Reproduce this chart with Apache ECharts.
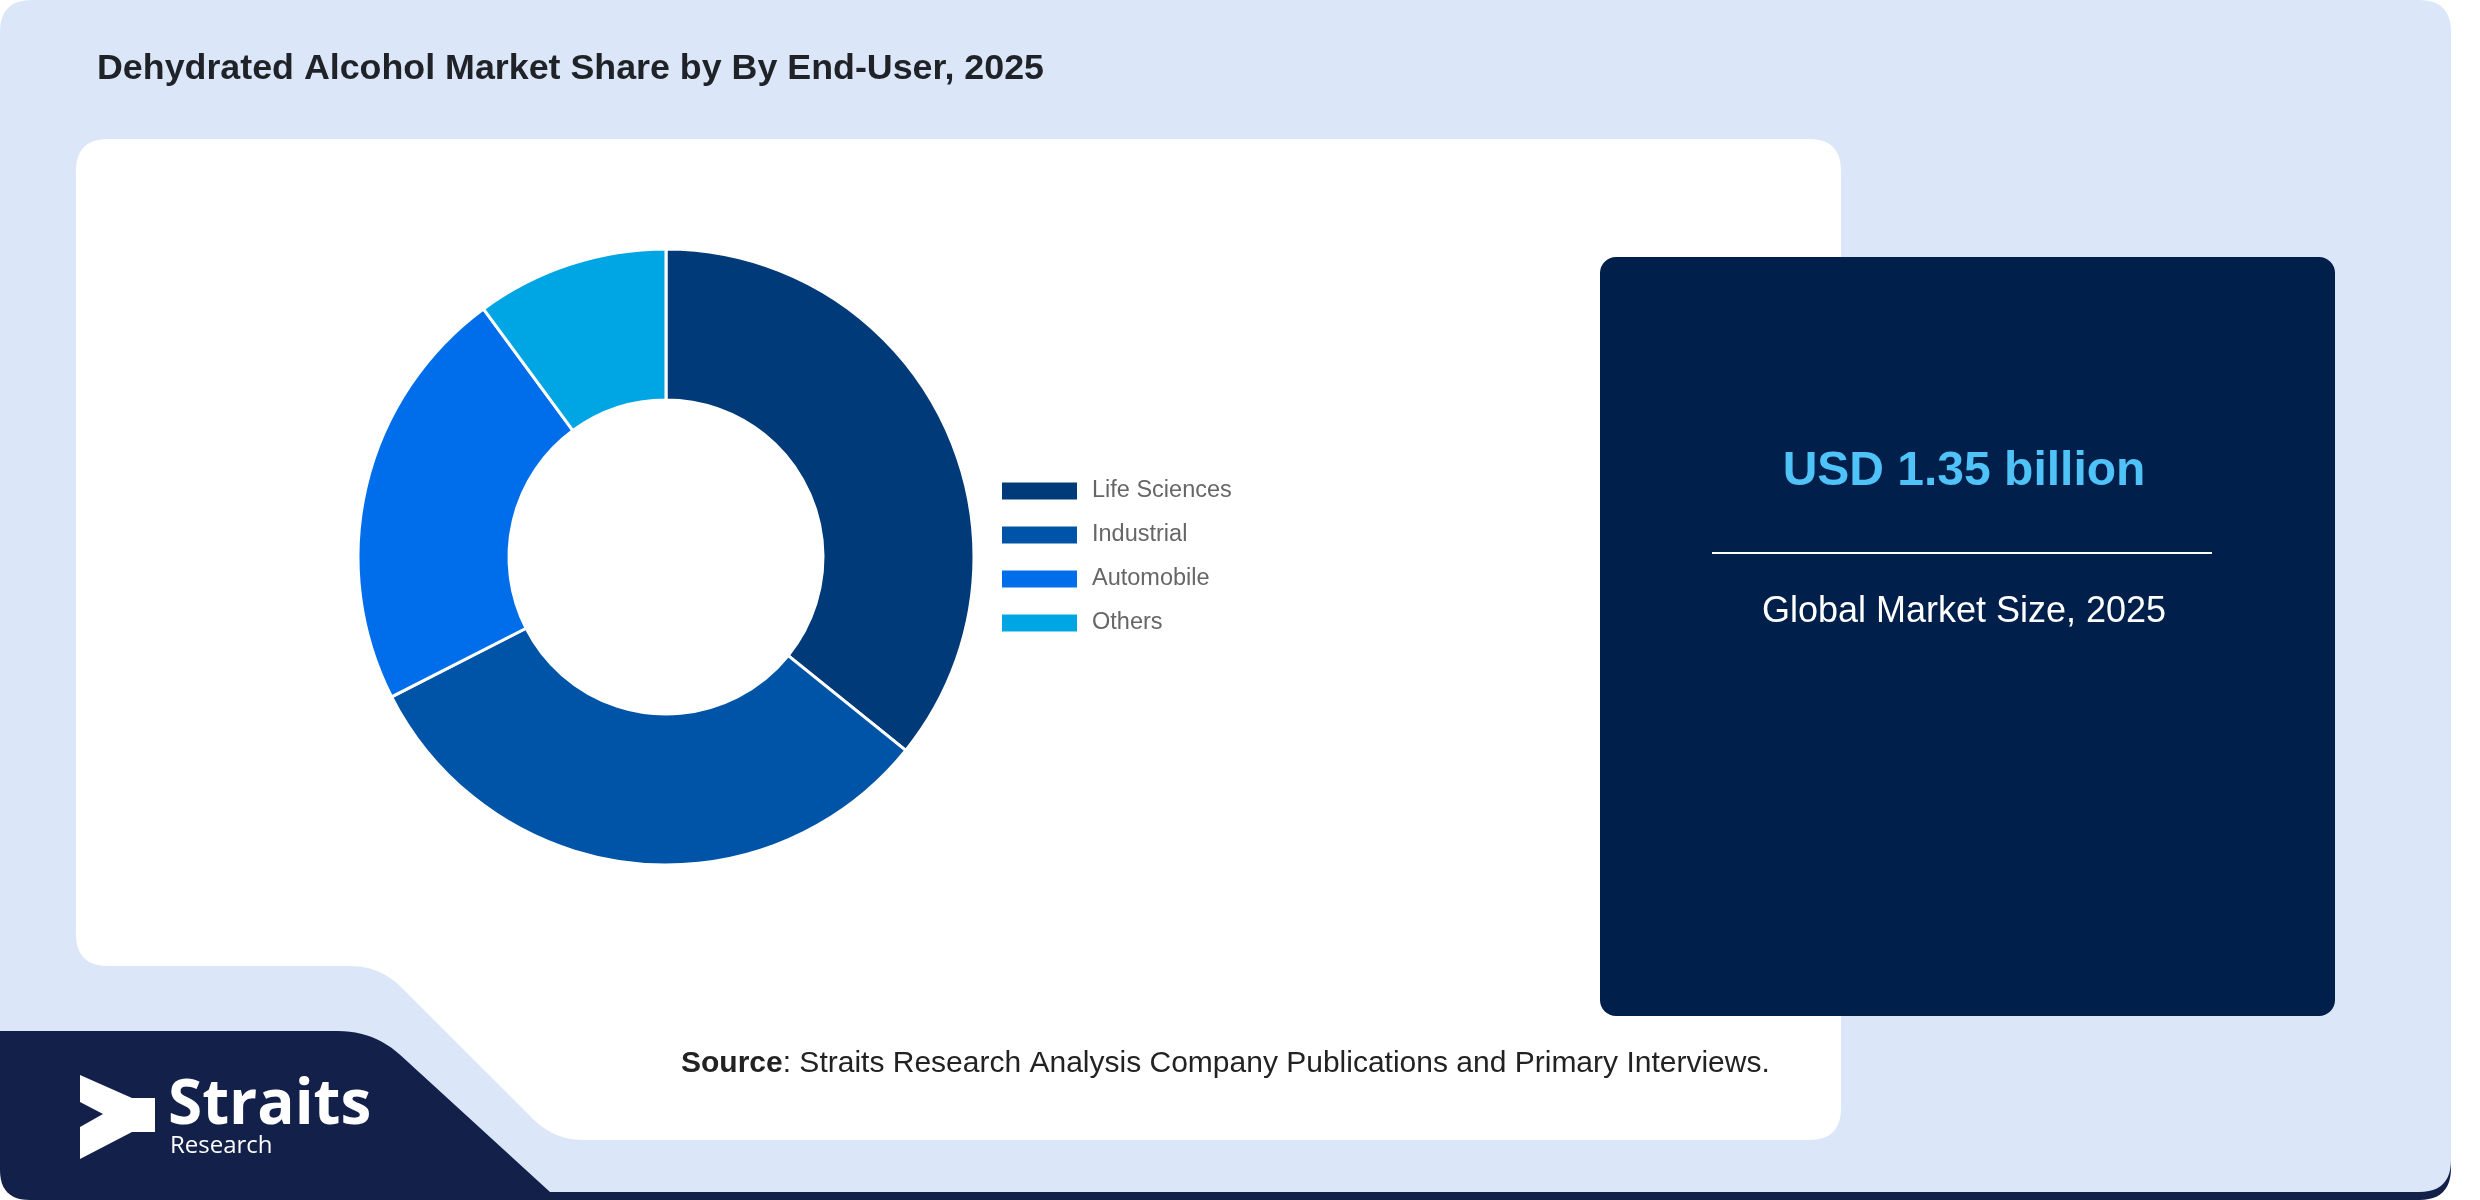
<!DOCTYPE html>
<html>
<head>
<meta charset="utf-8">
<script src="https://cdn.jsdelivr.net/npm/echarts@6/dist/echarts.min.js"></script>
<style>
html,body{margin:0;padding:0;background:#ffffff;}
#chart{width:2480px;height:1200px;}
</style>
</head>
<body>
<div id="chart"></div>
<script>
// ---- data ----
var categories = ['Life Sciences', 'Industrial', 'Automobile', 'Others'];
var shares = [35.8, 31.7, 22.4, 10.1];
var palette = ['#003a78', '#0054a8', '#006eea', '#00a6e3'];
var titleText = 'Dehydrated Alcohol Market Share by By End-User, 2025';
var marketValue = 'USD 1.35 billion';
var marketLabel = 'Global Market Size, 2025';
var sourceLabel = 'Source';
var sourceText = ': Straits Research Analysis Company Publications and Primary Interviews.';

var chart = echarts.init(document.getElementById('chart'), null, {renderer: 'canvas'});

var FONT = '"Liberation Sans", Arial, sans-serif';
var LOGO_FONT = '"Open Sans", "Noto Sans", sans-serif';

// rounded polygon helper (decorative panel shapes)
function roundPoly(corners) {
  var out = [];
  var n = corners.length;
  for (var i = 0; i < n; i++) {
    var p = corners[i], r = p[2] || 0;
    if (!r) { out.push([p[0], p[1]]); continue; }
    var a = corners[(i - 1 + n) % n], b = corners[(i + 1) % n];
    var d1x = a[0] - p[0], d1y = a[1] - p[1], l1 = Math.sqrt(d1x * d1x + d1y * d1y);
    var d2x = b[0] - p[0], d2y = b[1] - p[1], l2 = Math.sqrt(d2x * d2x + d2y * d2y);
    var s = [p[0] + d1x / l1 * r, p[1] + d1y / l1 * r];
    var e = [p[0] + d2x / l2 * r, p[1] + d2y / l2 * r];
    for (var k = 0; k <= 12; k++) {
      var t = k / 12, u = 1 - t;
      out.push([u * u * s[0] + 2 * u * t * p[0] + t * t * e[0], u * u * s[1] + 2 * u * t * p[1] + t * t * e[1]]);
    }
  }
  return out;
}

var navyShape = roundPoly([[0, 1030, 0], [2451, 1030, 0], [2451, 1200, 32], [0, 1200, 30]]);
var cardShape = roundPoly([[0, 0, 32], [2451, 0, 32], [2451, 1192, 32], [550, 1192, 0], [374, 1031, 36], [0, 1031, 0]]);
var whiteShape = roundPoly([[76, 139, 32], [1841, 139, 32], [1841, 1140, 32], [554, 1140, 30], [380, 966, 30], [76, 966, 32]]);
var chevron = [[80,1075],[132,1098],[155,1098],[155,1132],[132,1132],[80,1159],[80,1127],[103,1114],[80,1102]];

var data = categories.map(function (c, i) {
  return {name: c, value: shares[i], itemStyle: {color: palette[i]}};
});

chart.setOption({
  animation: false,
  graphic: [
    {type: 'polygon', z: 0, silent: true, shape: {points: navyShape}, style: {fill: '#13204a'}},
    {type: 'polygon', z: 1, silent: true, shape: {points: cardShape}, style: {fill: '#dbe7f9'}},
    {type: 'polygon', z: 2, silent: true, shape: {points: whiteShape}, style: {fill: '#ffffff'}},
    {type: 'rect', z: 3, silent: true, shape: {x: 1600, y: 257, width: 735, height: 759, r: 16}, style: {fill: '#001f4a'}},
    {type: 'text', z: 4, silent: true, x: 97, y: 69, style: {text: titleText, font: 'bold 35.8px ' + FONT, fill: '#1f2328', verticalAlign: 'middle', align: 'left'}},
    {type: 'text', z: 4, silent: true, x: 1964, y: 472, style: {text: marketValue, font: 'bold 48px ' + FONT, fill: '#4fc3f7', verticalAlign: 'middle', align: 'center'}},
    {type: 'rect', z: 4, silent: true, shape: {x: 1712, y: 552, width: 500, height: 2}, style: {fill: '#ffffff'}},
    {type: 'text', z: 4, silent: true, x: 1964, y: 612, style: {text: marketLabel, font: '36px ' + FONT, fill: '#ffffff', verticalAlign: 'middle', align: 'center'}},
    {type: 'text', z: 4, silent: true, x: 681, y: 1064, style: {
      text: '{b|' + sourceLabel + '}' + sourceText, font: '30px ' + FONT, fill: '#222222', verticalAlign: 'middle', align: 'left',
      rich: {b: {font: 'bold 30px ' + FONT, fill: '#222222'}}
    }},
    {type: 'polygon', z: 4, silent: true, shape: {points: chevron}, style: {fill: '#ffffff'}},
    {type: 'text', z: 4, silent: true, x: 168, y: 1106, style: {text: 'Straits', font: 'bold 62px ' + LOGO_FONT, fill: '#ffffff', verticalAlign: 'middle', align: 'left'}},
    {type: 'text', z: 4, silent: true, x: 170, y: 1146, style: {text: 'Research', font: '24px ' + LOGO_FONT, fill: '#ffffff', verticalAlign: 'middle', align: 'left'}}
  ],
  legend: {
    orient: 'vertical',
    left: 1000,
    top: 479,
    padding: 0,
    itemWidth: 77,
    itemHeight: 19,
    itemGap: 20,
    icon: 'rect',
    selectedMode: false,
    data: categories,
    textStyle: {fontFamily: FONT, fontSize: 23.5, color: '#666666', padding: [0, 0, 0, 9]}
  },
  series: [{
    type: 'pie',
    z: 5,
    center: [666, 557],
    radius: [157, 308],
    startAngle: 90,
    clockwise: true,
    silent: true,
    label: {show: false},
    labelLine: {show: false},
    itemStyle: {borderColor: '#ffffff', borderWidth: 3},
    data: data
  }]
});
</script>
</body>
</html>
